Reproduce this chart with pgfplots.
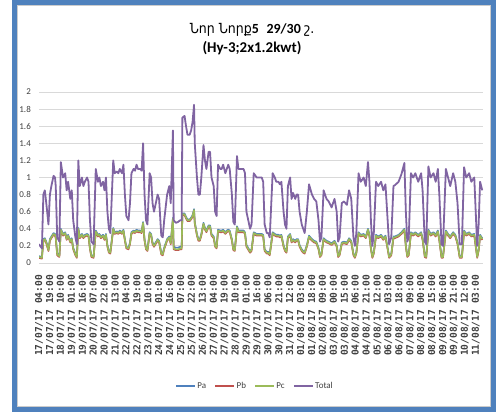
\documentclass[border=0pt]{standalone}
\usepackage{fontspec}
\setmainfont{Carlito}
\newfontfamily\armfont{DejaVu Sans Condensed}
\newfontfamily\monofont{DejaVu Sans Mono}
\usepackage{pgfplots}
\usepackage{pgfplotstable}
\pgfplotsset{compat=1.18}
\definecolor{cPa}{HTML}{4F81BD}
\definecolor{cPb}{HTML}{C0504D}
\definecolor{cPc}{HTML}{9BBB59}
\definecolor{cTot}{HTML}{8064A2}
\definecolor{frameblue}{HTML}{4F81BD}
\definecolor{gridgray}{HTML}{D9D9D9}
\definecolor{txtgray}{HTML}{404040}

\pgfplotstableread{
h T A B C
0 0.22 0.08 0.06 0.07
4 0.17 0.07 0.05 0.06
6 0.80 0.28 0.26 0.27
8 0.85 0.29 0.27 0.28
10 0.70 0.25 0.23 0.24
13 0.45 0.16 0.14 0.15
15 0.80 0.28 0.26 0.27
17 0.90 0.31 0.29 0.30
20 1.02 0.35 0.33 0.34
22 1.00 0.34 0.32 0.33
23 0.90 0.31 0.29 0.30
25 0.30 0.11 0.09 0.10
28 0.25 0.09 0.07 0.08
30 1.18 0.40 0.38 0.39
33 1.00 0.34 0.32 0.33
36 1.05 0.36 0.34 0.35
38 0.85 0.29 0.27 0.28
40 0.95 0.33 0.31 0.32
43 0.75 0.26 0.24 0.25
45 0.85 0.29 0.27 0.28
47 0.50 0.18 0.16 0.17
50 0.30 0.11 0.09 0.10
52 0.22 0.08 0.06 0.07
54 1.20 0.41 0.39 0.40
56 0.90 0.31 0.29 0.30
59 1.00 0.34 0.32 0.33
61 0.90 0.31 0.29 0.30
63 0.95 0.33 0.31 0.32
66 1.00 0.34 0.32 0.33
68 0.95 0.33 0.31 0.32
70 0.50 0.18 0.16 0.17
72 0.25 0.09 0.07 0.08
75 0.22 0.08 0.06 0.07
78 1.10 0.38 0.36 0.37
81 0.95 0.33 0.31 0.32
83 1.00 0.34 0.32 0.33
85 0.90 0.31 0.29 0.30
88 0.95 0.33 0.31 0.32
90 0.85 0.29 0.27 0.28
92 1.00 0.34 0.32 0.33
94 0.60 0.21 0.19 0.20
96 0.40 0.14 0.12 0.13
98 0.35 0.13 0.11 0.12
102 1.20 0.41 0.39 0.40
104 1.05 0.36 0.34 0.35
107 1.07 0.37 0.35 0.36
109 1.05 0.36 0.34 0.35
111 1.10 0.38 0.36 0.37
114 1.05 0.36 0.34 0.35
116 1.15 0.39 0.37 0.38
118 0.80 0.28 0.26 0.27
120 0.55 0.19 0.17 0.18
123 0.50 0.18 0.16 0.17
125 0.70 0.24 0.22 0.23
127 1.05 0.36 0.34 0.35
130 1.10 0.38 0.36 0.37
132 1.08 0.37 0.35 0.36
134 1.15 0.39 0.37 0.38
136 1.10 0.38 0.36 0.37
139 1.10 0.38 0.36 0.37
141 1.08 0.37 0.35 0.36
143 1.40 0.48 0.46 0.47
145 0.80 0.28 0.26 0.27
147 0.50 0.18 0.16 0.17
149 0.45 0.16 0.14 0.15
152 1.05 0.36 0.34 0.35
154 1.00 0.34 0.32 0.33
156 0.70 0.24 0.22 0.23
158 0.60 0.21 0.19 0.20
161 0.72 0.25 0.23 0.24
163 0.80 0.28 0.26 0.27
165 0.75 0.26 0.24 0.25
168 0.32 0.12 0.10 0.11
170 0.30 0.11 0.09 0.10
172 0.50 0.18 0.16 0.17
174 0.65 0.23 0.21 0.22
176 0.80 0.28 0.26 0.27
179 0.90 0.31 0.29 0.30
181 0.70 0.24 0.22 0.23
184 1.55 0.53 0.51 0.52
185 0.50 0.19 0.16 0.17
188 0.47 0.18 0.15 0.16
191 0.48 0.18 0.15 0.16
194 0.50 0.19 0.16 0.17
196 0.50 0.19 0.16 0.17
197 1.70 0.58 0.56 0.57
200 1.72 0.58 0.56 0.57
202 1.60 0.54 0.52 0.53
204 1.50 0.51 0.49 0.50
207 1.50 0.51 0.49 0.50
209 1.55 0.53 0.51 0.52
211 1.65 0.56 0.54 0.55
213 1.85 0.63 0.61 0.62
214 1.40 0.48 0.46 0.47
217 1.00 0.34 0.32 0.33
219 0.80 0.28 0.26 0.27
221 0.80 0.28 0.26 0.27
223 1.00 0.34 0.32 0.33
226 1.38 0.47 0.45 0.46
228 1.20 0.41 0.39 0.40
230 1.10 0.38 0.36 0.37
233 1.30 0.44 0.42 0.43
235 1.30 0.44 0.42 0.43
237 1.00 0.34 0.32 0.33
240 0.90 0.31 0.29 0.30
242 0.60 0.21 0.19 0.20
244 0.55 0.19 0.17 0.18
246 1.15 0.39 0.37 0.38
249 1.10 0.38 0.36 0.37
251 1.10 0.38 0.36 0.37
253 1.15 0.39 0.37 0.38
256 1.05 0.36 0.34 0.35
258 1.10 0.38 0.36 0.37
260 1.15 0.39 0.37 0.38
262 1.10 0.38 0.36 0.37
265 0.80 0.28 0.26 0.27
267 0.48 0.17 0.15 0.16
269 0.45 0.16 0.14 0.15
272 1.25 0.43 0.41 0.42
274 1.10 0.38 0.36 0.37
276 1.10 0.38 0.36 0.37
278 1.10 0.38 0.36 0.37
281 1.10 0.38 0.36 0.37
283 1.05 0.36 0.34 0.35
285 0.60 0.21 0.19 0.20
290 0.40 0.14 0.12 0.13
292 0.45 0.16 0.14 0.15
295 1.05 0.36 0.34 0.35
299 1.00 0.34 0.32 0.33
301 1.00 0.34 0.32 0.33
304 1.00 0.34 0.32 0.33
306 1.00 0.34 0.32 0.33
308 0.95 0.33 0.31 0.32
310 0.45 0.16 0.14 0.15
313 0.35 0.13 0.11 0.12
315 0.35 0.13 0.11 0.12
317 0.30 0.11 0.09 0.10
321 1.05 0.36 0.34 0.35
324 1.00 0.34 0.32 0.33
326 0.95 0.33 0.31 0.32
329 0.95 0.33 0.31 0.32
331 0.92 0.32 0.30 0.31
333 0.95 0.33 0.31 0.32
336 0.60 0.21 0.19 0.20
338 0.45 0.16 0.14 0.15
340 0.40 0.14 0.12 0.13
342 0.90 0.31 0.29 0.30
345 1.00 0.34 0.32 0.33
347 0.75 0.26 0.24 0.25
349 0.82 0.28 0.26 0.27
352 0.75 0.26 0.24 0.25
354 0.80 0.28 0.26 0.27
356 0.80 0.28 0.26 0.27
358 0.60 0.21 0.19 0.20
361 0.45 0.16 0.14 0.15
363 0.40 0.14 0.12 0.13
365 0.35 0.13 0.11 0.12
368 0.60 0.21 0.19 0.20
371 0.92 0.32 0.30 0.31
375 0.80 0.28 0.26 0.27
378 0.75 0.26 0.24 0.25
381 0.72 0.25 0.23 0.24
384 0.50 0.18 0.16 0.17
386 0.25 0.09 0.07 0.08
388 0.30 0.11 0.09 0.10
391 0.85 0.29 0.27 0.28
395 0.75 0.26 0.24 0.25
398 0.72 0.25 0.23 0.24
402 0.65 0.23 0.21 0.22
406 0.75 0.26 0.24 0.25
409 0.60 0.21 0.19 0.20
411 0.25 0.09 0.07 0.08
413 0.30 0.11 0.09 0.10
416 0.70 0.24 0.22 0.23
419 0.72 0.25 0.23 0.24
423 0.68 0.24 0.22 0.23
426 0.85 0.29 0.27 0.28
429 0.75 0.26 0.24 0.25
432 0.30 0.11 0.09 0.10
434 0.20 0.08 0.06 0.07
436 0.35 0.13 0.11 0.12
439 1.05 0.36 0.34 0.35
442 0.95 0.33 0.31 0.32
446 1.00 0.34 0.32 0.33
449 0.90 0.31 0.29 0.30
452 1.18 0.40 0.38 0.39
454 0.95 0.33 0.31 0.32
456 0.50 0.18 0.16 0.17
458 0.20 0.08 0.06 0.07
460 0.35 0.13 0.11 0.12
463 0.95 0.33 0.31 0.32
466 0.90 0.31 0.29 0.30
470 0.95 0.33 0.31 0.32
473 0.85 0.29 0.27 0.28
476 0.92 0.32 0.30 0.31
479 0.50 0.18 0.16 0.17
481 0.22 0.08 0.06 0.07
484 0.30 0.11 0.09 0.10
487 0.90 0.31 0.29 0.30
489 0.91 0.31 0.29 0.30
494 0.95 0.33 0.31 0.32
498 1.04 0.36 0.34 0.35
502 1.17 0.40 0.38 0.39
504 0.60 0.21 0.19 0.20
506 0.25 0.09 0.07 0.08
508 0.30 0.11 0.09 0.10
511 1.05 0.36 0.34 0.35
514 1.00 0.34 0.32 0.33
517 1.05 0.36 0.34 0.35
521 0.95 0.33 0.31 0.32
525 1.05 0.36 0.34 0.35
527 0.85 0.29 0.27 0.28
530 0.25 0.09 0.07 0.08
532 0.22 0.08 0.06 0.07
535 1.13 0.39 0.37 0.38
538 1.00 0.34 0.32 0.33
542 1.05 0.36 0.34 0.35
545 0.95 0.33 0.31 0.32
548 1.10 0.38 0.36 0.37
550 0.80 0.28 0.26 0.27
553 0.22 0.08 0.06 0.07
555 0.20 0.08 0.06 0.07
559 1.10 0.38 0.36 0.37
562 1.00 0.34 0.32 0.33
565 0.90 0.31 0.29 0.30
569 1.05 0.36 0.34 0.35
572 0.95 0.33 0.31 0.32
575 0.70 0.24 0.22 0.23
578 0.22 0.08 0.06 0.07
581 0.22 0.08 0.06 0.07
584 1.12 0.38 0.36 0.37
587 1.00 0.34 0.32 0.33
591 1.05 0.36 0.34 0.35
594 0.95 0.33 0.31 0.32
598 1.00 0.34 0.32 0.33
600 0.60 0.21 0.19 0.20
602 0.20 0.08 0.06 0.07
604 0.45 0.16 0.14 0.15
606 0.95 0.33 0.31 0.32
609 0.85 0.29 0.27 0.28
}\datatable

\begin{document}
\begin{tikzpicture}
\useasboundingbox (-39bp,-149bp) rectangle (457bp,263bp);
\begin{axis}[
  scale only axis,
  width=444bp, height=171bp,
  xmin=0, xmax=610, ymin=0, ymax=2,
  axis lines*=left,
  y axis line style={draw=none},
  x axis line style={draw=gridgray, line width=1bp},
  major tick length=0pt,
  ymajorgrids,
  grid style={draw=gridgray, line width=1bp},
  ytick={0,0.2,0.4,0.6,0.8,1,1.2,1.4,1.6,1.8,2},
  yticklabels={0,0.2,0.4,0.6,0.8,1,1.2,1.4,1.6,1.8,2},
  yticklabel style={font=\fontsize{9}{10}\selectfont, text=txtgray, inner sep=0pt, anchor=east},
  yticklabel shift=8bp,
  xtick={0,15,...,600},
  xticklabels={17/07/17 04:00,17/07/17 19:00,18/07/17 10:00,19/07/17 01:00,19/07/17 16:00,20/07/17 07:00,20/07/17 22:00,21/07/17 13:00,22/07/17 04:00,22/07/17 19:00,23/07/17 10:00,24/07/17 01:00,24/07/17 16:00,25/07/17 07:00,25/07/17 22:00,26/07/17 13:00,27/07/17 04:00,27/07/17 19:00,28/07/17 10:00,29/07/17 01:00,29/07/17 16:00,30/07/17 06:00,30/07/17 21:00,31/07/17 12:00,01/08/17 03:00,01/08/17 18:00,02/08/17 09:00,03/08/17 00:00,03/08/17 15:00,04/08/17 06:00,04/08/17 21:00,05/08/17 12:00,06/08/17 03:00,06/08/17 18:00,07/08/17 09:00,08/08/17 00:00,08/08/17 15:00,09/08/17 06:00,09/08/17 21:00,10/08/17 12:00,11/08/17 03:00},
  xticklabel style={font=\monofont\bfseries\fontsize{9.6}{10}\selectfont, text=txtgray, rotate=90, anchor=east, inner sep=0pt},
  xticklabel shift=12bp,
  legend columns=4,
  legend style={draw=none, fill=none, at={(0.485,-0.719)}, anchor=center,
    font=\fontsize{9}{10}\selectfont, text=txtgray, inner sep=0pt,
    nodes={inner sep=1bp},
    /tikz/every even column/.append style={column sep=7bp}},
  legend image code/.code={\draw[#1, line width=2.5bp] (0bp,0bp) -- (19bp,0bp);},
  every axis plot/.append style={no markers, line width=1.6bp, line join=round},
]
\addplot[cPa] table[x=h, y=A]{\datatable};
\addlegendentry{Pa}
\addplot[cPb] table[x=h, y=B]{\datatable};
\addlegendentry{Pb}
\addplot[cPc] table[x=h, y=C]{\datatable};
\addlegendentry{Pc}
\addplot[cTot, line width=1.8bp] table[x=h, y=T]{\datatable};
\addlegendentry{Total}
\end{axis}
\node[font=\fontsize{14}{16}\selectfont, anchor=center] at (213bp,233bp)
  {{\armfont Նոր Նորք}\textbf{5\hspace{0.55em}29/30} {\armfont շ.}};
\node[font=\bfseries\fontsize{15}{17}\selectfont, anchor=center] at (213bp,215bp)
  {(Hy-3;2x1.2kwt)};
\draw[gray!40, line width=0.8bp] (-21.5bp,-143.5bp) rectangle (451.5bp,257.5bp);
\draw[frameblue, line width=5bp] (-24.5bp,-146.5bp) rectangle (454.5bp,260.5bp);
\end{tikzpicture}
\end{document}
